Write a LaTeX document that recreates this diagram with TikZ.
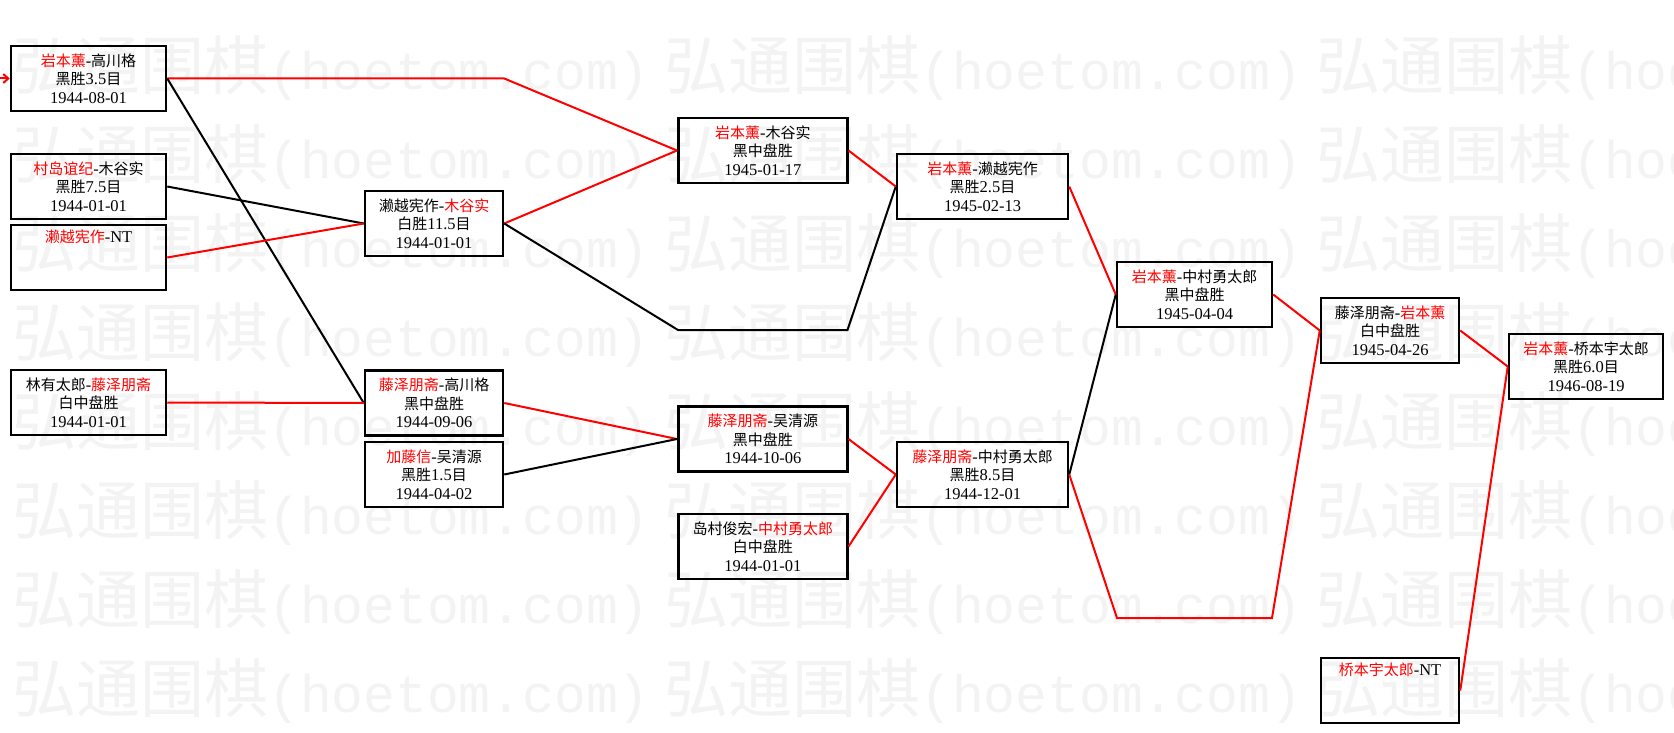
\documentclass[tikz,border=0pt]{standalone}
\usepackage{fontspec}
\setmainfont{Liberation Serif}[Scale=1.1]
\newfontfamily\cjk{Noto Sans CJK SC}
\newfontfamily\wmmono{Liberation Mono}
\usetikzlibrary{arrows.meta}
\definecolor{wmgray}{RGB}{243,243,243}
\definecolor{winred}{RGB}{255,0,0}
\newcommand\Rn[1]{\textcolor{winred}{\cjk #1}}
\newcommand\Kn[1]{{\cjk #1}}
\tikzset{
  game/.style={draw=black, line width=2.5pt, minimum width=#1, minimum height=65pt,
    inner sep=0pt, align=center, font=\fontsize{15}{18.5}\selectfont},
  game/.default=155pt,
  win/.style={draw=winred, line width=2pt},
  loss/.style={draw=black, line width=2pt},
  wmark/.style={anchor=west, inner sep=0pt, text=wmgray, font=\fontsize{64}{64}\selectfont},
}
\begin{document}
\begin{tikzpicture}[x=1pt,y=-1pt]
\useasboundingbox (0,0) rectangle (1674,733);
\fill[white] (0,0) rectangle (1674,733);
% watermark
\begin{scope}
\clip (0,0) rectangle (1674,733);
\foreach \r [count=\i] in {68,157,246,335,424,513,602,691}{
  \foreach \c [count=\j] in {12,664,1316}{
    \node[wmark] (wm-\i-\j) at (\c,\r) {{\cjk 弘通围棋}{\wmmono\fontsize{53}{64}\selectfont(hoetom.com)}};
  }
}
\end{scope}
% column A
\node[game=155pt] (b1) at (88.5,78.5) {\Rn{岩本薰}-\Kn{高川格}\\\Kn{黑胜}3.5\Kn{目}\\1944-08-01};
\node[game=155pt] (b2) at (88.5,186.5) {\Rn{村岛谊纪}-\Kn{木谷实}\\\Kn{黑胜}7.5\Kn{目}\\1944-01-01};
\node[game=155pt] (b3) at (88.5,257.5) {\Rn{濑越宪作}-NT\\\strut\\\strut};
\node[game=155pt] (b4) at (88.5,402.5) {\Kn{林有太郎}-\Rn{藤泽朋斋}\\\Kn{白中盘胜}\\1944-01-01};
% column B
\node[game=138pt] (c1) at (434,223.5) {\Kn{濑越宪作}-\Rn{木谷实}\\\Kn{白胜}11.5\Kn{目}\\1944-01-01};
\node[game=138pt] (c2) at (434,403) {\Rn{藤泽朋斋}-\Kn{高川格}\\\Kn{黑中盘胜}\\1944-09-06};
\node[game=138pt] (c3) at (434,474.5) {\Rn{加藤信}-\Kn{吴清源}\\\Kn{黑胜}1.5\Kn{目}\\1944-04-02};
% column C
\node[game=169pt] (d1) at (762.75,150.5) {\Rn{岩本薰}-\Kn{木谷实}\\\Kn{黑中盘胜}\\1945-01-17};
\node[game=169pt] (d2) at (762.75,439) {\Rn{藤泽朋斋}-\Kn{吴清源}\\\Kn{黑中盘胜}\\1944-10-06};
\node[game=169pt] (d3) at (762.75,546.5) {\Kn{岛村俊宏}-\Rn{中村勇太郎}\\\Kn{白中盘胜}\\1944-01-01};
% column D
\node[game=171pt] (e1) at (982.5,186.5) {\Rn{岩本薰}-\Kn{濑越宪作}\\\Kn{黑胜}2.5\Kn{目}\\1945-02-13};
\node[game=171pt] (e2) at (982.5,474.5) {\Rn{藤泽朋斋}-\Kn{中村勇太郎}\\\Kn{黑胜}8.5\Kn{目}\\1944-12-01};
% column E
\node[game=155pt] (f1) at (1194.5,294.5) {\Rn{岩本薰}-\Kn{中村勇太郎}\\\Kn{黑中盘胜}\\1945-04-04};
% column F
\node[game=138pt] (g1) at (1390,330.5) {\Kn{藤泽朋斋}-\Rn{岩本薰}\\\Kn{白中盘胜}\\1945-04-26};
\node[game=138pt] (g2) at (1390,690.5) {\Rn{桥本宇太郎}-NT\\\strut\\\strut};
% column G
\node[game=154pt] (h1) at (1586,366.5) {\Rn{岩本薰}-\Kn{桥本宇太郎}\\\Kn{黑胜}6.0\Kn{目}\\1946-08-19};
% helper coordinates
\coordinate (a0) at (0,78.5);
\coordinate (k1) at (678,330);
\coordinate (k2) at (847.5,330);
\coordinate (m1) at (1117,618);
\coordinate (m2) at (1272,618);
% connectors
\draw[win, -{Straight Barb[length=5pt,width=9pt]}] (a0) -- (b1.west);
\draw[win] (b1.east) -- (b1.east -| c1.east) -- (d1.west);
\draw[loss] (b1.east) -- (c2.west);
\draw[loss] (b2.east) -- (c1.west);
\draw[win] (b3.east) -- (c1.west);
\draw[win] (b4.east) -- (c2.west);
\draw[win] (c1.east) -- (d1.west);
\draw[loss] (c1.east) -- (k1) -- (k2) -- (e1.west);
\draw[win] (c2.east) -- (d2.west);
\draw[loss] (c3.east) -- (d2.west);
\draw[win] (d1.east) -- (e1.west);
\draw[win] (d2.east) -- (e2.west);
\draw[win] (d3.east) -- (e2.west);
\draw[win] (e1.east) -- (f1.west);
\draw[loss] (e2.east) -- (f1.west);
\draw[win] (e2.east) -- (m1) -- (m2) -- (g1.west);
\draw[win] (f1.east) -- (g1.west);
\draw[win] (g1.east) -- (h1.west);
\draw[win] (g2.east) -- (h1.west);
\end{tikzpicture}
\end{document}
